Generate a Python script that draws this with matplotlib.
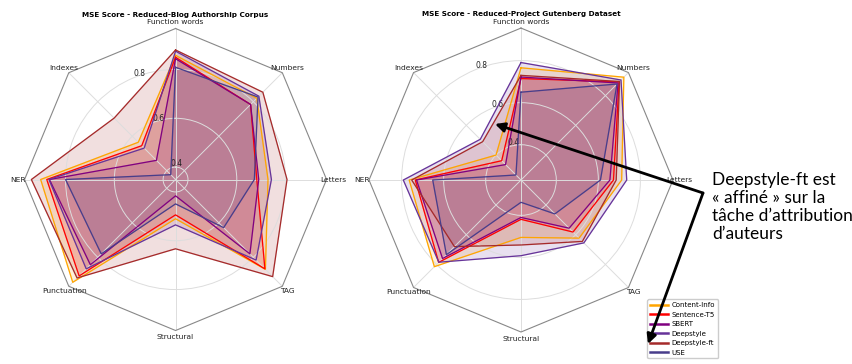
import numpy as np
import matplotlib
matplotlib.use('Agg')
import matplotlib.pyplot as plt

# axes, counter-clockwise starting from the top
labels = ['Function words', 'Indexes', 'NER', 'Punctuation', 'Structural', 'TAG', 'Letters', 'Numbers']
models = ['Content-Info', 'Sentence-T5', 'SBERT', 'Deepstyle', 'Deepstyle-ft', 'USE']
colors = ['orange', 'red', 'purple', 'rebeccapurple', 'brown', 'darkslateblue']

blog_content_info = [0.858, 0.565, 0.902, 0.945, 0.510, 0.870, 0.728, 0.820]
blog_sentence_t5 = [0.850, 0.545, 0.877, 0.908, 0.494, 0.867, 0.682, 0.784]
blog_sbert = [0.844, 0.460, 0.866, 0.843, 0.416, 0.780, 0.690, 0.784]
blog_deepstyle = [0.875, 0.531, 0.868, 0.867, 0.535, 0.816, 0.742, 0.832]
blog_deepstyle_ft = [0.880, 0.705, 0.940, 0.920, 0.633, 0.912, 0.806, 0.855]
blog_use = [0.809, 0.377, 0.800, 0.780, 0.449, 0.628, 0.672, 0.827]

gut_content_info = [0.766, 0.400, 0.764, 0.815, 0.505, 0.623, 0.711, 0.924]
gut_sentence_t5 = [0.715, 0.362, 0.735, 0.786, 0.419, 0.582, 0.672, 0.892]
gut_sbert = [0.722, 0.336, 0.729, 0.760, 0.410, 0.556, 0.655, 0.885]
gut_deepstyle = [0.791, 0.506, 0.792, 0.785, 0.592, 0.655, 0.735, 0.905]
gut_deepstyle_ft = [0.730, 0.490, 0.752, 0.680, 0.541, 0.645, 0.685, 0.895]
gut_use = [0.650, 0.266, 0.652, 0.734, 0.338, 0.460, 0.610, 0.878]

blog = [blog_content_info, blog_sentence_t5, blog_sbert, blog_deepstyle, blog_deepstyle_ft, blog_use]
gutenberg = [gut_content_info, gut_sentence_t5, gut_sbert, gut_deepstyle, gut_deepstyle_ft, gut_use]

plt.rcParams['font.family'] = ['DejaVu Sans']

fig = plt.figure(figsize=(8.52, 3.64), dpi=100)
ax1 = fig.add_axes([0.0288, 0.092, 0.3545, 0.8297], projection='polar')
ax2 = fig.add_axes([0.4331, 0.0879, 0.3568, 0.835], projection='polar')

theta = np.linspace(0, 2 * np.pi, len(labels), endpoint=False)


def radar(ax, data, title, rlim):
    ax.set_theta_offset(np.pi / 2)
    ax.set_ylim(*rlim)
    for vals, name, c in zip(data, models, colors):
        t = np.append(theta, theta[0])
        v = np.append(vals, vals[0])
        ax.plot(t, v, color=c, linewidth=0.9, label=name)
        ax.fill(t, v, color=c, alpha=0.15)
    ax.set_thetagrids(np.degrees(theta), [''] * len(labels))
    # category names just outside the octagon corners
    off = (rlim[1] - rlim[0]) * 6.5 / 151
    for t, lab in zip(theta, labels):
        ax.text(t, rlim[1] + off, lab, ha='center', va='center', fontsize=5.4,
                color='#222222', clip_on=False)
    ax.set_rgrids([0.4, 0.6, 0.8], ['0.4', '0.6', '0.8'], angle=22.5, fontsize=5.5, color='#222222')
    ax.grid(color='#dddddd', linewidth=0.7)
    # octagon frame instead of the circle
    ax.spines['polar'].set_visible(False)
    ax.plot(np.append(theta, theta[0]), [rlim[1]] * (len(labels) + 1), color='#888888',
            linewidth=0.8, clip_on=False)
    ax.text(0.5, 1.045, title, transform=ax.transAxes, ha='center', va='center',
            fontsize=5.2, fontweight='bold')


radar(ax1, blog, 'MSE Score - Reduced-Blog Authorship Corpus', (0.349, 0.968))
radar(ax2, gutenberg, 'MSE Score - Reduced-Project Gutenberg Dataset', (0.232, 0.955))

leg = ax2.legend(loc='upper left', bbox_to_anchor=(644 / 852, 1 - 296 / 364),
                 bbox_transform=fig.transFigure, fontsize=5, handlelength=2.6,
                 handletextpad=0.5, labelspacing=0.5, borderpad=0.4, framealpha=1)
for line in leg.get_lines():
    line.set_linewidth(1.8)

# slide annotation
fig.text(712 / 852, 1 - 172 / 364,
         'Deepstyle-ft est\n« affiné » sur la\ntâche d\u2019attribution\nd\u2019auteurs',
         family=['Lato', 'DejaVu Sans'], fontsize=12.5, va='top', ha='left', linespacing=1.15)
start = (703 / 852, 1 - 193 / 364)
for tip in [(495 / 852, 1 - 124 / 364), (648 / 852, 1 - 344 / 364)]:
    fig.add_artist(matplotlib.patches.FancyArrowPatch(
        start, tip, transform=fig.transFigure, arrowstyle='-|>', mutation_scale=14,
        color='black', linewidth=2, shrinkA=0, shrinkB=0))

plt.savefig('out.png', dpi=100)
